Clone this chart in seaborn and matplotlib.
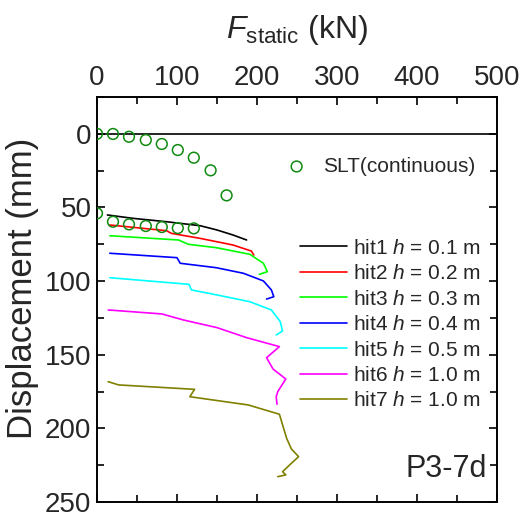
import matplotlib
matplotlib.use("Agg")
import matplotlib.pyplot as plt
import matplotlib.ticker as mticker
from matplotlib.lines import Line2D
import seaborn as sns
import pandas as pd

# ---- data ----
slt_F = [0, 20, 40, 61, 81, 101, 121, 142, 162, 0, 20, 40, 61, 81, 101, 121]
slt_D = [0, 0.1, 2.0, 4.2, 6.9, 11, 16.2, 24.8, 41.8, 54, 59.7, 61.5, 62.6, 63.3, 64, 64.2]

hit1_F = [13, 45, 87, 129, 150, 170, 187]
hit1_D = [55.1, 57.4, 59.7, 62.4, 65.3, 68.7, 72.1]
hit2_F = [16, 87, 93, 129, 170, 193, 196]
hit2_D = [61.9, 65.8, 67.6, 71.0, 75.5, 79.6, 82.3]
hit3_F = [16, 102, 114, 149, 191, 208, 213, 203]
hit3_D = [69.2, 72.1, 75.0, 77.3, 81.8, 87.9, 93.6, 95.4]
hit4_F = [16, 100, 104, 149, 183, 208, 218, 221, 212]
hit4_D = [81.1, 84.1, 87.9, 90.9, 94.7, 99.9, 106.0, 110.6, 112.2]
hit5_F = [16, 115, 118, 150, 191, 218, 229, 232, 224]
hit5_D = [97.7, 102.2, 106.0, 109.4, 114.0, 119.6, 127.5, 133.9, 136.6]
hit6_F = [14, 81, 108, 150, 187, 228, 212, 220, 236, 226, 224, 225]
hit6_D = [119.6, 122.3, 126.4, 131.6, 138.4, 144.5, 152.0, 159.7, 166.5, 175.0, 178.5, 183.6]
hit7_F = [14, 27, 122, 116, 189, 228, 237, 243, 252, 243, 232, 236, 226]
hit7_D = [168.3, 170.5, 173.5, 178.5, 184.1, 190.4, 206.7, 214.0, 219.2, 223.7, 229.4, 231.6, 232.8]

hit_labels = ["hit1 $h$ = 0.1 m", "hit2 $h$ = 0.2 m", "hit3 $h$ = 0.3 m",
              "hit4 $h$ = 0.4 m", "hit5 $h$ = 0.5 m", "hit6 $h$ = 1.0 m",
              "hit7 $h$ = 1.0 m"]
hit_colors = ["#000000", "#ff0000", "#00ff00", "#0000ff", "#00ffff", "#ff00ff", "#808000"]
slt_label = "SLT(continuous)"
x_ticks = [0, 100, 200, 300, 400, 500]
y_ticks = [0, 50, 100, 150, 200, 250]

# ---- style ----
sns.set_theme(style="white")
plt.rcParams["font.family"] = ["Liberation Sans", "DejaVu Sans"]
plt.rcParams["mathtext.fontset"] = "custom"
plt.rcParams["mathtext.rm"] = "Liberation Sans"
plt.rcParams["mathtext.it"] = "Liberation Sans:italic"
plt.rcParams["mathtext.bf"] = "Liberation Sans:bold"

fig = plt.figure(figsize=(5.28, 5.15), dpi=100)
ax = fig.add_axes([97 / 528, 1 - 502 / 515, 400 / 528, 405 / 515])

# hit lines
all_F = [hit1_F, hit2_F, hit3_F, hit4_F, hit5_F, hit6_F, hit7_F]
all_D = [hit1_D, hit2_D, hit3_D, hit4_D, hit5_D, hit6_D, hit7_D]
rows = []
for lab, Fs, Ds in zip(hit_labels, all_F, all_D):
    for f, d in zip(Fs, Ds):
        rows.append({"hit": lab, "F": f, "D": d})
df = pd.DataFrame(rows)

ax.axhline(0, color="black", lw=1.2, zorder=1)

sns.lineplot(data=df, x="F", y="D", hue="hit", hue_order=hit_labels,
             palette=dict(zip(hit_labels, hit_colors)), sort=False,
             estimator=None, units="hit", lw=1.2, ax=ax, legend=False)

sc = ax.scatter(slt_F, slt_D, s=60, facecolors="none", edgecolors="#108a10",
                linewidths=1.1, zorder=3, label=slt_label)

ax.set_xlim(0, 500)
ax.set_ylim(250, -25)

ax.xaxis.set_major_locator(mticker.FixedLocator(x_ticks))
ax.xaxis.set_minor_locator(mticker.MultipleLocator(50))
ax.yaxis.set_major_locator(mticker.FixedLocator(y_ticks))
ax.yaxis.set_minor_locator(mticker.MultipleLocator(25))

ax.tick_params(which="both", direction="in", top=True, bottom=True, left=True,
               right=True, labeltop=True, labelbottom=False, color="black")
ax.tick_params(which="major", length=6, width=1.2, labelsize=20, pad=4)
ax.tick_params(which="minor", length=5, width=1.2)
ax.xaxis.set_label_position("top")
for s in ax.spines.values():
    s.set_color("black")
    s.set_linewidth(1.4)

ax.set_xlabel(r"$\it{F}$$_{\rm static}$ (kN)", fontsize=23, labelpad=20)
ax.set_ylabel("Displacement (mm)", fontsize=25)
ax.yaxis.set_label_coords(-0.145, 0.528)

# legends
handles = [Line2D([], [], color=c, lw=1.2) for c in hit_colors]
leg1 = ax.legend(handles, hit_labels, loc="upper left", bbox_to_anchor=(0.5075, 0.65),
                 frameon=False, fontsize=15, handlelength=2.25, handletextpad=0.3,
                 labelspacing=0.31, borderpad=0, borderaxespad=0)
ax.add_artist(leg1)
leg2 = ax.legend([sc], [slt_label], loc="upper left", bbox_to_anchor=(0.46, 0.852),
                 frameon=False, fontsize=15, handlelength=1.5, handletextpad=0.5,
                 borderpad=0, borderaxespad=0, scatterpoints=1)

ax.text(0.975, 0.062, "P3-7d", transform=ax.transAxes, ha="right", va="baseline",
        fontsize=22)

fig.savefig("out.png", dpi=100)
